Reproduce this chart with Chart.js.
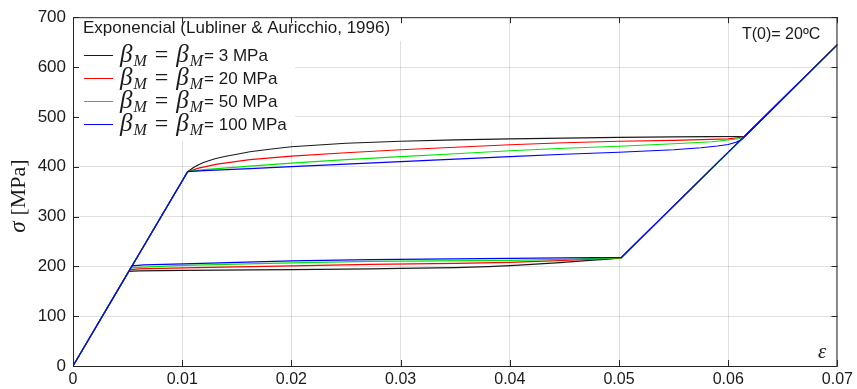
<!DOCTYPE html>
<html>
<head>
<meta charset="utf-8">
<script src="https://cdn.jsdelivr.net/npm/chart.js@4.4.1/dist/chart.umd.min.js"></script>
<style>
  html, body { margin: 0; padding: 0; background: #fff; }
  #wrap { position: relative; width: 857px; height: 389px; }
</style>
</head>
<body>
<div id="wrap"><canvas id="stress_strain" width="857" height="389"></canvas></div>
<script>
// strain / stress paths (load -> plateau -> unload -> plateau -> 0)
var blackEps   = [0, 0.0105, 0.011, 0.0115, 0.012, 0.013, 0.014, 0.015, 0.0162, 0.018, 0.02, 0.025, 0.03, 0.035, 0.04, 0.045, 0.05, 0.055, 0.0615, 0.07,
                  0.0502, 0.049, 0.047, 0.0446, 0.042, 0.04, 0.038, 0.035, 0.03, 0.0272, 0.02, 0.0101, 0.006, 0.0051, 0];
var blackSigma = [0, 390, 398, 404, 409, 416, 421, 425, 430, 435, 440, 447, 451, 454, 456, 457.5, 459, 460, 461, 645,
                  217, 214.5, 211.5, 207.5, 204, 201.5, 199.5, 197.5, 196, 195, 193.5, 192, 191, 190, 0];

var redEps   = [0, 0.0105, 0.0115, 0.0132, 0.0162, 0.02, 0.025, 0.03, 0.035, 0.04, 0.045, 0.05, 0.055, 0.06, 0.0615, 0.07,
                0.0502, 0.045, 0.04, 0.035, 0.0272, 0.02, 0.0101, 0.006, 0.0052, 0];
var redSigma = [0, 390, 397, 405, 414, 421, 428, 434, 439, 444, 448, 451, 453, 456, 460, 645,
                217, 212, 208, 206, 204, 201, 197, 195, 193, 0];

var greenEps   = [0, 0.0105, 0.012, 0.0162, 0.02, 0.025, 0.03, 0.035, 0.04, 0.045, 0.05, 0.055, 0.0585, 0.061, 0.0615, 0.07,
                  0.0502, 0.045, 0.04, 0.0272, 0.02, 0.0101, 0.006, 0.0053, 0];
var greenSigma = [0, 390, 394, 401, 407, 414, 420, 426, 432, 437, 441, 446, 450, 456, 460, 645,
                  217, 214, 212, 210, 207, 202, 198, 197, 0];

var blueEps   = [0, 0.0105, 0.012, 0.0162, 0.02, 0.025, 0.03, 0.035, 0.04, 0.045, 0.05, 0.055, 0.0575, 0.059, 0.06, 0.0607, 0.0612, 0.0615, 0.07,
                 0.0502, 0.045, 0.04, 0.0272, 0.02, 0.0101, 0.0065, 0.0054, 0];
var blueSigma = [0, 390, 392, 396, 400, 405, 410, 415, 420, 425, 429, 434, 438, 441.5, 444.5, 449, 454, 460, 645,
                 218, 217, 216, 213.5, 211, 205, 203, 201, 0];

var seriesLabels = ['3 MPa', '20 MPa', '50 MPa', '100 MPa'];
var seriesColors = ['#1a1a1a', '#ff0000', '#00e600', '#0000ff'];

var xTicks = [0, 0.01, 0.02, 0.03, 0.04, 0.05, 0.06, 0.07];
var yTicks = [0, 100, 200, 300, 400, 500, 600, 700];

function toPoints(eps, sig) {
    return eps.map(function (e, i) { return { x: e, y: sig[i] }; });
}

var allSeries = [
    toPoints(blackEps, blackSigma),
    toPoints(redEps, redSigma),
    toPoints(greenEps, greenSigma),
    toPoints(blueEps, blueSigma)
];

var SANS = '"Liberation Sans", Arial, sans-serif';
var SERIF = '"Liberation Serif", "DejaVu Serif", serif';

// white boxes behind the annotations, then the box, ticks and texts on top
var decor = {
    id: 'decor',
    beforeDatasetsDraw: function (chart) {
        var ctx = chart.ctx;
        ctx.save();
        ctx.fillStyle = '#fff';
        ctx.fillRect(75, 16, 328, 25);   // title
        ctx.fillRect(75, 41, 220, 100);  // legend
        ctx.fillRect(731, 18, 104, 48);  // T(0)
        ctx.restore();
    },
    afterDraw: function (chart) {
        var ctx = chart.ctx;
        var a = chart.chartArea;
        var xs = chart.scales.x, ys = chart.scales.y;
        ctx.save();

        // axes box
        ctx.strokeStyle = '#262626';
        ctx.lineWidth = 1;
        ctx.strokeRect(a.left + 0.5, a.top + 0.5, a.right - a.left - 1, a.bottom - a.top);

        // inward ticks
        ctx.beginPath();
        xTicks.forEach(function (v) {
            var px = Math.round(xs.getPixelForValue(v)) + 0.5;
            ctx.moveTo(px, a.bottom); ctx.lineTo(px, a.bottom - 6);
            ctx.moveTo(px, a.top); ctx.lineTo(px, a.top + 6);
        });
        yTicks.forEach(function (v) {
            var py = Math.round(ys.getPixelForValue(v)) + 0.5;
            ctx.moveTo(a.left, py); ctx.lineTo(a.left + 6, py);
            ctx.moveTo(a.right, py); ctx.lineTo(a.right - 6, py);
        });
        ctx.stroke();

        // y title
        ctx.fillStyle = '#1a1a1a';
        ctx.save();
        ctx.translate(19, 196);
        ctx.rotate(-Math.PI / 2);
        ctx.textBaseline = 'middle';
        ctx.textAlign = 'left';
        ctx.font = 'italic 23px ' + SERIF;
        var sw = ctx.measureText('σ ').width;
        ctx.font = '22px ' + SERIF;
        var rw = ctx.measureText('[MPa]').width;
        ctx.font = 'italic 23px ' + SERIF;
        ctx.fillText('σ', -(sw + rw) / 2, 0);
        ctx.font = '22px ' + SERIF;
        ctx.fillText('[MPa]', -(sw + rw) / 2 + sw, 0);
        ctx.restore();

        // x title inside the plot
        ctx.font = 'italic 21px ' + SERIF;
        ctx.textAlign = 'left';
        ctx.textBaseline = 'alphabetic';
        ctx.fillText('ε', 818, 358);

        // temperature note
        ctx.font = '16px ' + SANS;
        ctx.fillText('T(0)= 20ºC', 742, 39);

        // legend title
        ctx.font = '17px ' + SANS;
        ctx.fillText('Exponencial (Lubliner & Auricchio, 1996)', 83, 33);

        // legend rows
        var rowY = [55, 78, 101, 124];
        seriesLabels.forEach(function (lab, i) {
            var y = rowY[i];
            ctx.strokeStyle = seriesColors[i];
            ctx.lineWidth = 1;
            ctx.beginPath();
            ctx.moveTo(84, y + 0.5); ctx.lineTo(113, y + 0.5);
            ctx.stroke();

            ctx.fillStyle = '#1a1a1a';
            var x = 120;
            var base = y + 7;
            function beta() {
                ctx.font = 'italic 25px ' + SERIF;
                ctx.fillText('β', x, base);
                x += ctx.measureText('β').width + 1;
                ctx.font = 'italic 16px ' + SERIF;
                ctx.fillText('M', x, base + 4);
                x += ctx.measureText('M').width + 2;
            }
            beta();
            ctx.font = '24px ' + SERIF;
            ctx.fillText(' = ', x, base);
            x += ctx.measureText(' = ').width + 2;
            beta();
            ctx.font = '17px ' + SANS;
            ctx.fillText('= ' + lab, x - 1, base - 1);
        });

        ctx.restore();
    }
};

var ctx = document.getElementById('stress_strain');

var chart = new Chart(ctx, {
    type: 'scatter',
    data: {
        datasets: allSeries.map(function (pts, i) {
            return {
                label: seriesLabels[i],
                data: pts,
                showLine: true,
                borderColor: seriesColors[i],
                borderWidth: 1.2,
                pointRadius: 0,
                fill: false,
                tension: 0,
                order: 3 - i   // blue ends up on top
            };
        })
    },
    options: {
        responsive: false,
        animation: false,
        layout: { padding: { top: 13, right: 19, left: 0, bottom: 0 } },
        plugins: {
            legend: { display: false },
            tooltip: { enabled: false }
        },
        scales: {
            x: {
                type: 'linear',
                min: 0,
                max: 0.07,
                afterFit: function (s) { s.height = 23; },
                afterBuildTicks: function (s) { s.ticks = xTicks.map(function (v) { return { value: v }; }); },
                ticks: {
                    padding: 4,
                    color: '#1a1a1a',
                    font: { family: SANS, size: 16 },
                    maxRotation: 0,
                    callback: function (v) { return String(Number(v.toFixed(2))); }
                },
                grid: { color: 'rgba(38,38,38,0.15)', drawTicks: false },
                border: { display: false }
            },
            y: {
                min: 0,
                max: 700,
                afterFit: function (s) { s.width = 73; },
                afterBuildTicks: function (s) { s.ticks = yTicks.map(function (v) { return { value: v }; }); },
                ticks: {
                    padding: 7,
                    color: '#1a1a1a',
                    font: { family: SANS, size: 17 }
                },
                grid: { color: 'rgba(38,38,38,0.15)', drawTicks: false },
                border: { display: false }
            }
        }
    },
    plugins: [decor]
});
</script>
</body>
</html>
